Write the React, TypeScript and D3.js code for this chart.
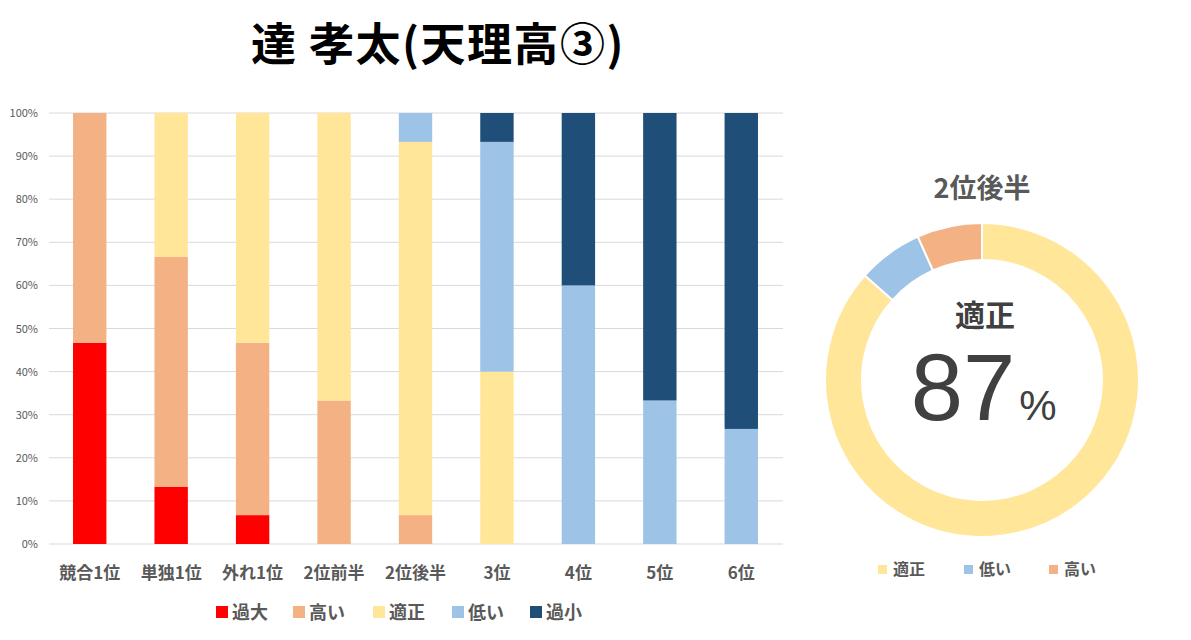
import React from "react";
import * as d3 from "d3";

const categories = ["競合1位", "単独1位", "外れ1位", "2位前半", "2位後半", "3位", "4位", "5位", "6位"];
const seriesNames = ["過大", "高い", "適正", "低い", "過小"];
const seriesColors = ["#FF0000", "#F4B183", "#FFE699", "#9DC3E6", "#1F4E79"];
const overValues = [46.7, 13.3, 6.7, 0, 0, 0, 0, 0, 0];
const highValues = [53.3, 53.3, 40.0, 33.3, 6.7, 0, 0, 0, 0];
const fitValues = [0, 33.4, 53.3, 66.7, 86.6, 40.0, 0, 0, 0];
const lowValues = [0, 0, 0, 0, 6.7, 53.3, 60.0, 33.3, 26.7];
const underValues = [0, 0, 0, 0, 0, 6.7, 40.0, 66.7, 73.3];
const yTicks = [0, 10, 20, 30, 40, 50, 60, 70, 80, 90, 100];

const donutLabels = ["適正", "低い", "高い"];
const donutValues = [86.6, 6.7, 6.7];
const donutColors = ["#FFE699", "#9DC3E6", "#F4B183"];

const FONT = "'Noto Sans CJK JP', 'Noto Sans', sans-serif";
const NUMFONT = "'Liberation Sans', Arial, sans-serif";

export default function App() {
  const W = 1191, H = 640;
  const seriesData = [overValues, highValues, fitValues, lowValues, underValues];
  const rows = categories.map((c, i) => {
    const r: any = { cat: c };
    seriesNames.forEach((s, j) => (r[s] = seriesData[j][i]));
    return r;
  });
  const stack = d3.stack<any>().keys(seriesNames)(rows);

  const x = d3.scaleBand().domain(categories).range([49, 782]).paddingInner(0.59).paddingOuter(0.295);
  const y = d3.scaleLinear().domain([0, 100]).range([544, 113]);

  const cx = 982, cy = 380, rOut = 157, rIn = 120;
  const pie = d3.pie<number>().sort(null).value((d) => d)(donutValues);
  const arc = d3.arc<any>().innerRadius(rIn).outerRadius(rOut);

  const legendItems = seriesNames.map((n, i) => ({ n, c: seriesColors[i] }));
  const legendX = [216, 293, 373, 452, 530];
  const dLegendX = [878, 964, 1049];

  return (
    <svg width={W} height={H} style={{ display: "block", position: "absolute", left: 0, top: 0 }} fontFamily={FONT}>
      <rect width={W} height={H} fill="#fff" />
      <text x={438} y={61} textAnchor="middle" fontSize={45} fontWeight="bold" fill="#000" letterSpacing={1.5}>
        達 孝太(天理高③)
      </text>
      {yTicks.map((t) => (
        <g key={t}>
          <line x1={49} x2={783} y1={y(t)} y2={y(t)} stroke="#D9D9D9" strokeWidth={1} />
          <text x={38} y={y(t) + 4} textAnchor="end" fontSize={11} fill="#595959">
            {t}%
          </text>
        </g>
      ))}
      {stack.map((layer, j) => (
        <g key={j} fill={seriesColors[j]}>
          {layer.map((d, i) =>
            d[1] - d[0] > 0 ? (
              <rect key={i} x={x(categories[i])} width={x.bandwidth()} y={y(d[1])} height={y(d[0]) - y(d[1])} />
            ) : null
          )}
        </g>
      ))}
      {categories.map((c) => (
        <text key={c} x={(x(c) as number) + x.bandwidth() / 2} y={579} textAnchor="middle" fontSize={17} fontWeight="bold" fill="#595959">
          {c}
        </text>
      ))}
      {legendItems.map((it, i) => (
        <g key={it.n}>
          <rect x={legendX[i]} y={606} width={12} height={12} fill={it.c} />
          <text x={legendX[i] + 16} y={619} fontSize={18} fontWeight="bold" fill="#595959">
            {it.n}
          </text>
        </g>
      ))}
      <text x={982} y={198} textAnchor="middle" fontSize={27} fontWeight="bold" fill="#595959">
        2位後半
      </text>
      <g transform={`translate(${cx},${cy})`}>
        {pie.map((p, i) => (
          <path key={i} d={arc(p) as string} fill={donutColors[i]} stroke="#fff" strokeWidth={2} />
        ))}
      </g>
      <text x={985} y={326} textAnchor="middle" fontSize={30} fontWeight="bold" fill="#404040">
        適正
      </text>
      <text x={963} y={420} textAnchor="middle" fontSize={94} fill="#404040" fontFamily={NUMFONT}>
        87
      </text>
      <text x={1038} y={420} textAnchor="middle" fontSize={42} fill="#404040" fontFamily={NUMFONT}>
        %
      </text>
      {donutLabels.map((l, i) => (
        <g key={l}>
          <rect x={dLegendX[i]} y={565} width={9} height={9} fill={donutColors[i]} />
          <text x={dLegendX[i] + 15} y={575} fontSize={16} fontWeight="bold" fill="#595959">
            {l}
          </text>
        </g>
      ))}
    </svg>
  );
}
